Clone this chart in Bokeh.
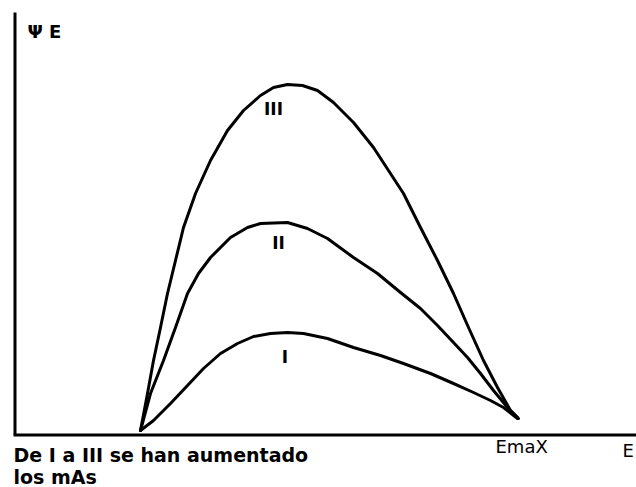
from bokeh.plotting import figure
from bokeh.models import Range1d
from bokeh.core.properties import value
from bokeh.embed import file_html
from bokeh.resources import INLINE

# Spectrum curves Psi_E vs E (arbitrary units)
E_III = [127, 134, 140, 147, 154, 162, 170, 182, 197, 214, 230, 247, 260, 274, 289, 304, 320, 340, 360, 390, 407, 424, 440, 455, 470, 484, 497, 505]
PSI_III = [4, 41, 74, 107, 141, 174, 207, 241, 274, 304, 324, 339, 347, 350, 349, 344, 332, 312, 287, 241, 207, 174, 141, 107, 74, 47, 24, 16]

E_II = [127, 137, 150, 162, 174, 185, 197, 217, 234, 247, 274, 294, 314, 340, 364, 387, 407, 424, 440, 454, 467, 480, 494, 504]
PSI_II = [4, 41, 74, 107, 141, 161, 177, 197, 207, 211, 212, 206, 196, 177, 161, 142, 126, 109, 92, 77, 61, 44, 27, 17]

E_I = [127, 140, 157, 174, 190, 207, 224, 240, 257, 274, 290, 314, 340, 367, 390, 417, 440, 460, 477, 490, 504]
PSI_I = [4, 14, 31, 49, 66, 81, 91, 98, 101, 102, 101, 96, 87, 79, 71, 61, 51, 42, 34, 27, 16]

CURVE_NAMES = ["III", "II", "I"]
NAME_E = [260, 265, 271.5]
NAME_PSI = [325.5, 192, 78]

Y_AXIS_TOP = 422
X_AXIS_END = 623

FONT = value("DejaVu Sans")

p = figure(width=636, height=487, output_backend="svg", toolbar_location=None,
           x_range=Range1d(-13, 623), y_range=Range1d(-53, 434),
           min_border=0, outline_line_color=None)
p.axis.visible = False
p.grid.visible = False
p.background_fill_color = "white"
p.border_fill_color = "white"

# axes
p.segment(x0=[1.5], y0=[0], x1=[1.5], y1=[Y_AXIS_TOP], line_color="black", line_width=3)
p.segment(x0=[0], y0=[-0.5], x1=[X_AXIS_END], y1=[-0.5], line_color="black", line_width=3)

for xs, ys in [(E_III, PSI_III), (E_II, PSI_II), (E_I, PSI_I)]:
    p.line(xs, ys, line_color="black", line_width=3, line_join="round", line_cap="round")

p.text(x=NAME_E, y=NAME_PSI, text=CURVE_NAMES, text_align="center", text_baseline="middle",
       text_font=FONT, text_font_style="bold", text_font_size="17px", text_color="black")

p.text(x=[14], y=[403], text=["Ψ E"], text_align="left", text_baseline="middle",
       text_font=FONT, text_font_style="bold", text_font_size="18px", text_color="black")

p.text(x=[482], y=[-12], text=["EmaX"], text_align="left", text_baseline="alphabetic",
       text_font=FONT, text_font_size="18px", text_color="black")
p.text(x=[609], y=[-16], text=["E"], text_align="left", text_baseline="alphabetic",
       text_font=FONT, text_font_size="18px", text_color="black")

p.text(x=[0, 0], y=[-20, -42], text=["De I a III se han aumentado", "los mAs"],
       text_align="left", text_baseline="alphabetic",
       text_font=FONT, text_font_style="bold", text_font_size="19px", text_color="black")

open("out.html", "w").write(file_html(p, INLINE))
